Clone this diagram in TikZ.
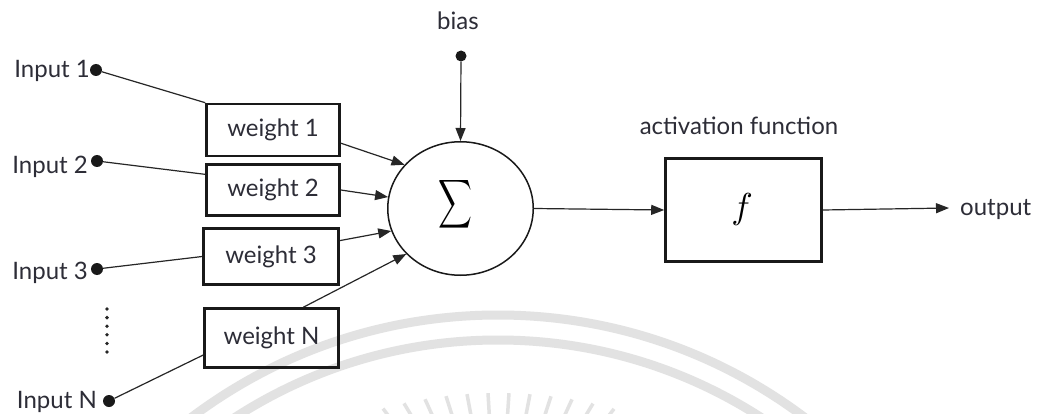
\documentclass[tikz,border=0pt]{standalone}
\usepackage{fontspec}
\setmainfont{Lato}
\usepackage{graphicx}
\usetikzlibrary{arrows.meta,shapes.geometric,calc}
\definecolor{ink}{RGB}{45,45,55}
\definecolor{wm}{RGB}{226,226,226}
\begin{document}
\begin{tikzpicture}[x=1pt,y=-1pt,
  lbl/.style={font=\fontsize{24}{28}\selectfont, text=ink, inner sep=0pt},
  wbox/.style={draw=black!90, line width=2.6pt, inner sep=0pt, lbl},
  dot/.style={circle, fill=black!90, inner sep=0pt, minimum size=12pt},
  conn/.style={draw=black!85, line width=1.2pt},
  arr/.style={conn, -{Triangle[length=13pt,width=10pt]}},
  wmline/.style={draw=wm, line width=9pt},
  wmray/.style={draw=wm, line width=3.5pt},
]
\useasboundingbox (0,0) rectangle (1040,414);
\fill[white] (0,0) rectangle (1040,414);

% faint emblem in the background
\begin{scope}
  \clip (0,0) rectangle (1040,414);
  \coordinate (wmc) at (498,825);
  \coordinate (rayc) at (498,560);
  \draw[wmline] (wmc) circle (510pt);
  \draw[wmline] (wmc) circle (485pt);
  \foreach \dx in {-115,-94,...,116} {
    \pgfmathsetmacro\ph{asin(\dx/432)}
    \coordinate (rt) at ($(wmc)+(90-\ph:432pt)$);
    \draw[wmray] (rt) -- ($(rt)!24pt!(rayc)$);
  }
\end{scope}

% inputs
\node[dot] (in1) at (96,70) {};
\node[dot] (in2) at (97,161) {};
\node[dot] (in3) at (97,269) {};
\node[dot] (inN) at (109,401) {};
\node[lbl, anchor=base east] (l1) at (90,78) {Input 1};
\node[lbl, anchor=base east] (l2) at (88,173) {Input 2};
\node[lbl, anchor=base east] (l3) at (88,279) {Input 3};
\node[lbl, anchor=base east] (lN) at (97,408) {Input N};
\foreach \yy in {309,317.6,326.2,334.8,343.4,352}
  \fill[black!85] (107,\yy) circle (1.9pt);

% weights
\node[wbox, minimum width=133pt, minimum height=52pt] (w1) at (273,130) {weight 1};
\node[wbox, minimum width=133pt, minimum height=51pt] (w2) at (273,190) {weight 2};
\node[wbox, minimum width=135pt, minimum height=56pt] (w3) at (271,256.5) {weight 3};
\node[wbox, minimum width=134pt, minimum height=59pt] (wN) at (271.5,338) {weight N};

% summing junction, bias and activation
\node[ellipse, draw=black!90, line width=1.5pt, minimum width=145.5pt, minimum height=133.5pt, inner sep=0pt] (sum) at (460.5,208.5) {};
\node[inner sep=0pt] (sig) at (455,204) {\scalebox{2.35}[3.4]{$\displaystyle\sum$}};
\node[dot, minimum size=11pt] (bias) at (461,56) {};
\node[lbl, anchor=base] (bl) at (458,30) {bias};
\node[wbox, minimum width=156pt, minimum height=103pt] (fbox) at (743.5,210) {};
\node[inner sep=0pt] (fsym) at (742,209) {\scalebox{3.6}{$f$}};
\node[lbl, anchor=base] (al) at (739,135) {activation function};
\coordinate (out) at (949,208);
\node[lbl, anchor=base west] (ol) at (960,215) {output};

% connectors
\draw[conn] (in1) -- (w1.north west);
\draw[conn] (in2) -- (w2.167);
\draw[conn] (in3) -- (w3.west);
\draw[conn] (inN) -- (wN.194);
\draw[arr] (w1.-11) -- (sum.142);
\draw[arr] (w2.east) -- (sum.171);
\draw[arr] (w3.13) -- (sum.198);
\draw[arr] (wN.44) -- (sum.220);
\draw[arr] (bias) -- (sum.north);
\draw[arr] (sum.east) -- (fbox.west);
\draw[arr] (fbox.east) -- (out);
\end{tikzpicture}
\end{document}
